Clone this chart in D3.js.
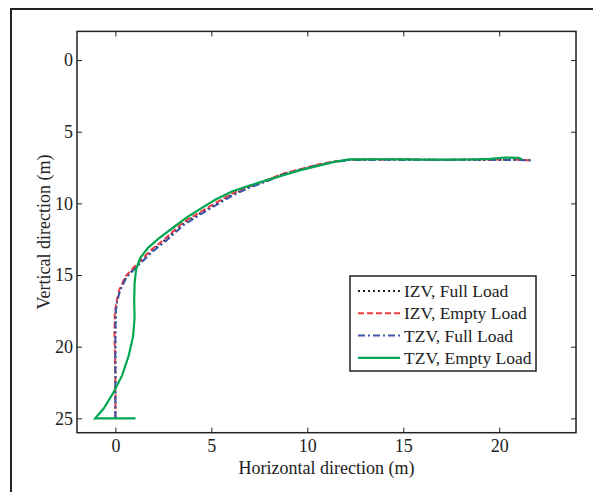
<!DOCTYPE html>
<html>
<head>
<meta charset="utf-8">
<script src="https://cdn.jsdelivr.net/npm/d3@7"></script>
<style>
body { margin: 0; background: #fff; }
text { font-family: "Liberation Serif", "Times New Roman", serif; fill: #222; }
</style>
</head>
<body>
<div id="chart"></div>
<script>
var width = 593, height = 492;
var margin = ({ top: 31.4, right: 17, bottom: 59.3, left: 77 });

var xTicks = [0, 5, 10, 15, 20];
var yTicks = [0, 5, 10, 15, 20, 25];
var names = ["IZV, Full Load", "IZV, Empty Load", "TZV, Full Load", "TZV, Empty Load"];

// [horizontal m, vertical m]
var izvFull = [[0,25],[0,22],[0,19],[0.02,17.6],[0.08,16.9],[0.22,16.1],[0.55,15.15],[1.05,14.45],[1.9,13.3],[2.6,12.55],[3.5,11.45],[4.4,10.7],[5.27,10.0],[6.13,9.35],[7.0,8.85],[7.87,8.42],[8.74,7.95],[9.6,7.65],[10.5,7.33],[11.4,7.1],[12.2,6.95],[13,6.95],[14,6.92],[15,6.95],[16,6.95],[17,6.97],[18,6.95],[19,6.98],[20,6.95],[21,6.95],[21.7,7.0]];
var izvEmpty = [[0,25],[0,22],[-0.05,19],[-0.03,17.6],[0.05,16.9],[0.2,16.05],[0.52,15.1],[1.0,14.4],[1.9,13.2],[2.6,12.45],[3.5,11.35],[4.4,10.62],[5.27,9.93],[6.13,9.28],[7.0,8.8],[7.87,8.38],[8.74,7.93],[9.6,7.63],[10.5,7.3],[11.4,7.08],[12.2,6.95],[13,6.93],[14,6.95],[15,6.9],[16,6.95],[17,6.95],[18,6.95],[19,6.92],[20,6.95],[21,6.95],[21.6,7.0]];
var tzvFull = [[0,25],[0,22],[0,19],[0.02,17.5],[0.08,16.9],[0.24,16.1],[0.58,15.15],[1.1,14.45],[1.95,13.35],[2.65,12.6],[3.55,11.52],[4.4,10.8],[5.27,10.1],[6.13,9.43],[7.0,8.9],[7.87,8.47],[8.74,7.98],[9.6,7.67],[10.5,7.35],[11.4,7.12],[12.2,6.97],[13,6.97],[14,6.95],[15,6.97],[16,6.95],[17,6.98],[18,6.95],[19,6.95],[20,6.97],[21,6.98],[21.7,7.0]];
var tzvEmpty = [[1.05,25],[-1.05,25],[-0.6,24.3],[-0.1,23.2],[0.35,22.0],[0.7,20.6],[0.92,19.3],[1.0,18.0],[0.98,16.8],[1.0,15.6],[1.08,14.6],[1.3,13.8],[1.7,13.1],[2.3,12.4],[3.0,11.7],[3.7,11.0],[4.4,10.4],[5.2,9.75],[6.1,9.15],[7.0,8.75],[7.9,8.38],[8.8,8.02],[9.6,7.7],[10.5,7.4],[11.4,7.1],[12.2,6.93],[13,6.93],[14,6.92],[15,6.93],[16,6.95],[17,6.95],[18,6.95],[19,6.92],[19.5,6.9],[20.3,6.8],[21.0,6.82],[21.2,6.92]];

var series = [izvFull, izvEmpty, tzvFull, tzvEmpty];
var colors = ["#222222", "#ee3b43", "#3b55a8", "#00a650"];
var dashes = ["2,3", "6,3", "7,3,2,3", null];

var w = width - margin.left - margin.right;
var h = height - margin.top - margin.bottom;

var x = d3.scaleLinear().domain([-2, 24]).range([0, w]);
var y = d3.scaleLinear().domain([-2, 26]).range([0, h]);

var svg = d3.select("#chart").append("svg")
    .attr("width", width)
    .attr("height", height);

// outer figure frame
svg.append("rect")
    .attr("x", 11).attr("y", 9)
    .attr("width", 620).attr("height", 520)
    .attr("fill", "none")
    .attr("stroke", "#222")
    .attr("stroke-width", 2);

var g = svg.append("g")
    .attr("transform", "translate(" + margin.left + "," + margin.top + ")");

g.append("defs").append("clipPath").attr("id", "clip")
    .append("rect").attr("width", w).attr("height", h);

var line = d3.line()
    .x(d => x(d[0]))
    .y(d => y(d[1]));

g.append("g").attr("clip-path", "url(#clip)")
  .selectAll("path")
  .data(series)
  .enter().append("path")
    .attr("d", line)
    .attr("fill", "none")
    .attr("stroke", (d, i) => colors[i])
    .attr("stroke-width", (d, i) => i == 3 ? 2.2 : 2)
    .attr("stroke-dasharray", (d, i) => dashes[i]);

// axes with inward ticks, MATLAB box
var tk = 5;
g.append("g")
    .attr("transform", "translate(0," + h + ")")
    .call(d3.axisBottom(x).tickValues(xTicks).tickSize(-tk).tickPadding(7))
    .call(a => a.select(".domain").remove());
g.append("g")
    .call(d3.axisTop(x).tickValues(xTicks).tickSize(-tk).tickFormat(""))
    .call(a => a.select(".domain").remove());
g.append("g")
    .call(d3.axisLeft(y).tickValues(yTicks).tickSize(-tk).tickPadding(4))
    .call(a => a.select(".domain").remove());
g.append("g")
    .attr("transform", "translate(" + w + ",0)")
    .call(d3.axisRight(y).tickValues(yTicks).tickSize(-tk).tickFormat(""))
    .call(a => a.select(".domain").remove());

g.selectAll(".tick text").style("font-size", "18px").attr("fill", "#222");
g.selectAll(".tick line").attr("stroke", "#222");

g.append("rect")
    .attr("width", w).attr("height", h)
    .attr("fill", "none")
    .attr("stroke", "#222")
    .attr("stroke-width", 1.5);

g.append("text")
    .attr("x", w / 2)
    .attr("y", h + 41.5)
    .attr("text-anchor", "middle")
    .style("font-size", "18px")
    .text("Horizontal direction (m)");

g.append("text")
    .attr("transform", "translate(-27," + h / 2 + ") rotate(-90)")
    .attr("text-anchor", "middle")
    .style("font-size", "18px")
    .text("Vertical direction (m)");

// legend
var lg = svg.append("g").attr("transform", "translate(350,276)");
lg.append("rect")
    .attr("width", 186).attr("height", 95)
    .attr("fill", "#fff")
    .attr("stroke", "#222")
    .attr("stroke-width", 1.5);
var item = lg.selectAll(".item")
    .data(names)
    .enter().append("g")
    .attr("transform", (d, i) => "translate(0," + (15 + i * 22.3) + ")");
item.append("line")
    .attr("x1", 8).attr("x2", 50)
    .attr("stroke", (d, i) => colors[i])
    .attr("stroke-width", (d, i) => i == 3 ? 2.2 : 2)
    .attr("stroke-dasharray", (d, i) => dashes[i]);
item.append("text")
    .attr("x", 54)
    .attr("dy", "0.35em")
    .style("font-size", "17.5px")
    .text(d => d);
</script>
</body>
</html>
